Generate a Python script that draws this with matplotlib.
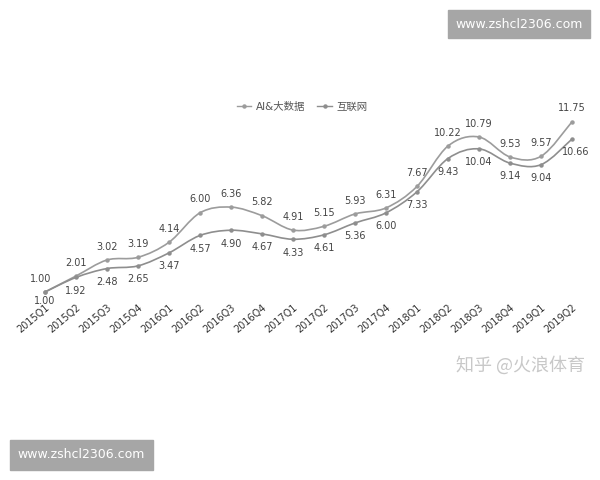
import numpy as np
import matplotlib as mp
mp.use('Agg')
import matplotlib.pyplot as plt
from matplotlib.path import Path
from matplotlib.patches import PathPatch, Rectangle

plt.rcParams['font.family'] = ['DejaVu Sans', 'Noto Sans CJK SC']

quarters = ['2015Q1', '2015Q2', '2015Q3', '2015Q4', '2016Q1', '2016Q2',
            '2016Q3', '2016Q4', '2017Q1', '2017Q2', '2017Q3', '2017Q4',
            '2018Q1', '2018Q2', '2018Q3', '2018Q4', '2019Q1', '2019Q2']
ai_bigdata = [1.00, 2.01, 3.02, 3.19, 4.14, 6.00, 6.36, 5.82, 4.91, 5.15,
              5.93, 6.31, 7.67, 10.22, 10.79, 9.53, 9.57, 11.75]
internet = [1.00, 1.92, 2.48, 2.65, 3.47, 4.57, 4.90, 4.67, 4.33, 4.61,
            5.36, 6.00, 7.33, 9.43, 10.04, 9.14, 9.04, 10.66]
series_names = ['AI&大数据', '互联网']

W, H = 600, 480
fig = plt.figure(figsize=(6, 4.8), dpi=100)
fig.patch.set_facecolor('white')

# axes placed so that 2015Q1 -> x=45px, 2019Q2 -> x=572px
ax = fig.add_axes([29.5 / W, (H - 298) / H, 558 / W, (298 - 102) / H])
ax.set_xlim(-0.5, 17.5)
ax.set_ylim(0.62, 13)
for s in ax.spines.values():
    s.set_visible(False)
ax.set_yticks([])
ax.set_xticks(range(len(quarters)))
ax.set_xticklabels(quarters, rotation=40, ha='right', rotation_mode='anchor',
                   fontsize=7, color='#333333')
ax.tick_params(axis='x', length=0, pad=3)


def smooth_path(xs, ys, t=0.5):
    # bezier segments (catmull-rom style control points) for a smooth line
    pts = np.column_stack([xs, ys]).astype(float)
    verts = [tuple(pts[0])]
    codes = [Path.MOVETO]
    n = len(pts)
    for i in range(n - 1):
        p0 = pts[max(i - 1, 0)]
        p1 = pts[i]
        p2 = pts[i + 1]
        p3 = pts[min(i + 2, n - 1)]
        c1 = p1 + (p2 - p0) * t / 3
        c2 = p2 - (p3 - p1) * t / 3
        verts += [tuple(c1), tuple(c2), tuple(p2)]
        codes += [Path.CURVE4] * 3
    return Path(verts, codes)


x = np.arange(len(quarters))
colors = ['#9c9c9c', '#8e8e8e']
handles = []
for ys, c, name in zip([ai_bigdata, internet], colors, series_names):
    ax.add_patch(PathPatch(smooth_path(x, ys, t=0.5), fill=False,
                           edgecolor=c, lw=1.2, clip_on=False))
    ax.plot(x, ys, color=c, marker='o', markersize=2.2,
            linestyle='none', clip_on=False)
    handles.append(ax.plot([], [], color=c, lw=1, marker='o',
                           markersize=2.2)[0])

for i, v in enumerate(ai_bigdata):
    dx = -3 if i == 0 else 0
    ax.annotate('%.2f' % v, (i, v), xytext=(dx, 6), textcoords='offset points',
                ha='center', va='bottom', fontsize=7, color='#444444')
for i, v in enumerate(internet):
    dy = -3 if i == 0 else -6
    dx = 3 if i == 17 else 0
    ax.annotate('%.2f' % v, (i, v), xytext=(dx, dy), textcoords='offset points',
                ha='center', va='top', fontsize=7, color='#444444')

leg = fig.legend(handles, series_names, loc='center', bbox_to_anchor=(302 / W, 1 - 107 / H),
                 ncol=2, frameon=False, fontsize=7.5, handlelength=1.4,
                 columnspacing=1.2, handletextpad=0.4)
for t in leg.get_texts():
    t.set_color('#555555')
    t.set_family(['DejaVu Sans', 'Noto Sans CJK SC'])

# watermarks
fig.patches.append(Rectangle((448 / W, 1 - 38 / H), 142 / W, 28 / H,
                             transform=fig.transFigure, color='#a6a6a6', zorder=5))
fig.text(519 / W, 1 - 24 / H, 'www.zshcl2306.com', ha='center', va='center',
         color='white', fontsize=9, zorder=6)
fig.patches.append(Rectangle((10 / W, 1 - 470 / H), 143 / W, 30 / H,
                             transform=fig.transFigure, color='#a6a6a6', zorder=5))
fig.text(81 / W, 1 - 455 / H, 'www.zshcl2306.com', ha='center', va='center',
         color='white', fontsize=9, zorder=6)
fig.text(520 / W, 1 - 365 / H, '知乎 @火浪体育', ha='center', va='center',
         color='#c8c8c8', fontsize=13, family=['Noto Sans CJK SC', 'DejaVu Sans'])

fig.savefig('out.png', dpi=100)
